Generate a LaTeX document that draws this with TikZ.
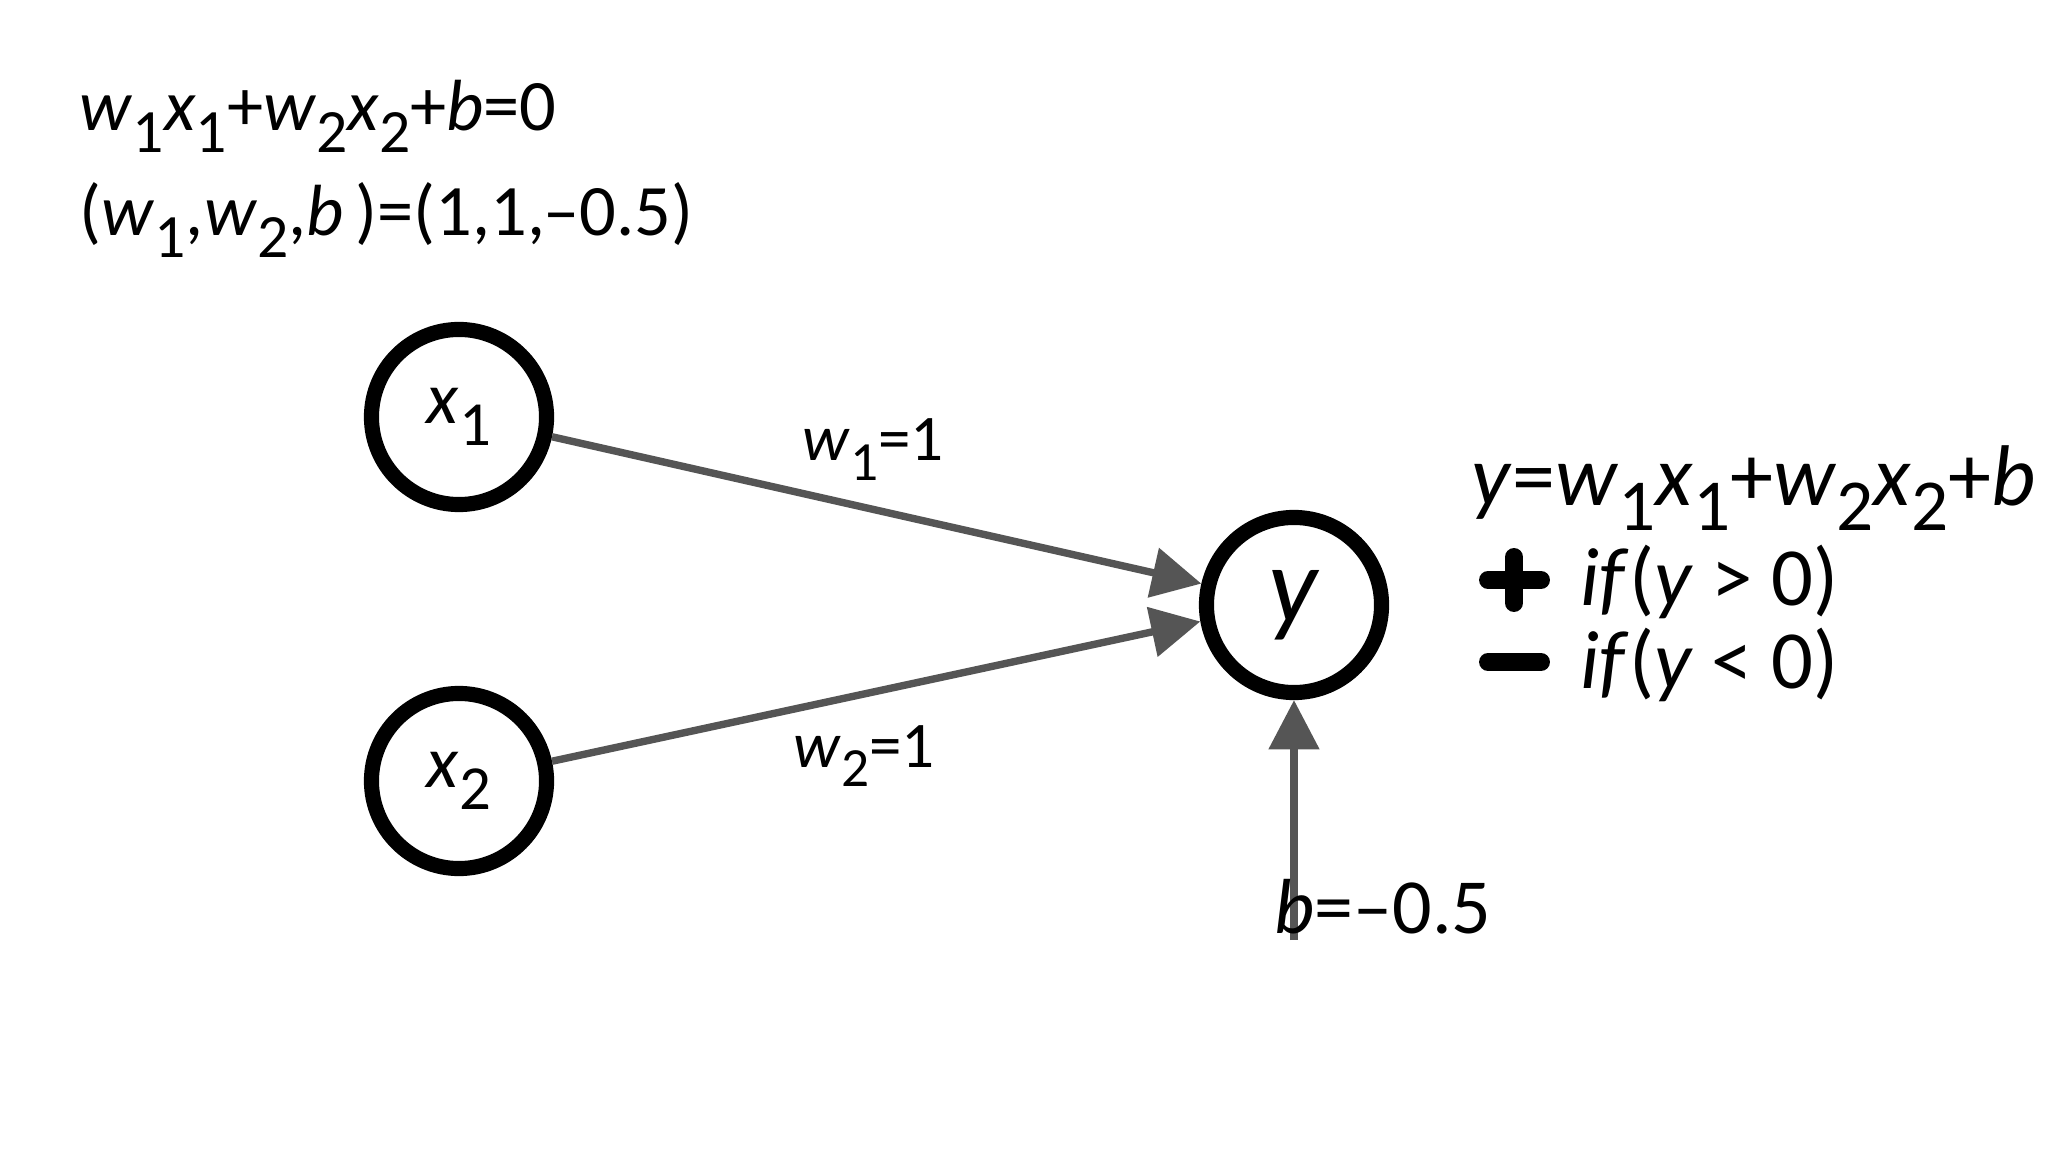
\documentclass[tikz,border=0pt]{standalone}
\usepackage{fontspec}
\setmainfont{Carlito}
\usetikzlibrary{arrows.meta}
\definecolor{arrowgrey}{RGB}{85,85,85}
\newcommand{\vsub}[1]{\raisebox{-0.3em}{\scalebox{0.85}{#1}}}
\newcommand{\vi}[1]{\textit{#1}}
\begin{document}
\begin{tikzpicture}[x=0.01cm,y=-0.01cm,
  neuron/.style={circle, draw=black, line width=4.3pt, minimum size=1.75cm, inner sep=0pt, font=\fontsize{21}{24}\selectfont},
  conn/.style={draw=arrowgrey, line width=2.1pt, -{Triangle[length=14pt,width=14pt]}},
  eq/.style={anchor=base west, inner sep=0pt, font=\fontsize{20.6}{24}\selectfont},
  lab/.style={eq, font=\fontsize{18.5}{22}\selectfont},
  eqbig/.style={eq, font=\fontsize{24.5}{28}\selectfont},
  eqif/.style={eq, font=\fontsize{23.5}{28}\selectfont},
  eqb/.style={eq, font=\fontsize{22.2}{26}\selectfont},
  sign/.style={line width=5.1pt, line cap=round}]
\useasboundingbox[fill=white] (0,0) rectangle (2048,1152);
\node[neuron] (x1) at (459,417) {\vi{x}\vsub{1}};
\node[neuron] (x2) at (459,781) {\vi{x}\vsub{2}};
\node[neuron, font=\fontsize{31}{34}\selectfont] (y) at (1294,605) {\vi{y}};
\coordinate (bstart) at (1294,940);
\draw[conn] (x1.-12) -- (y.167);
\draw[conn] (x2.12) -- (y.190);
\draw[conn] (bstart) -- (y.south);
\node[lab] (l1) at (802,461) {\vi{w}\vsub{1}=1};
\node[lab] (l2) at (793,767) {\vi{w}\vsub{2}=1};
\node[eqb] (lb) at (1274,933) {\vi{b}=–0.5};
\node[eq] (e1) at (79,131) {\vi{w}\vsub{1}\vi{x}\vsub{1}+\vi{w}\vsub{2}\vi{x}\vsub{2}+\vi{b}=0};
\node[eq] (e2) at (79,236) {(\vi{w}\vsub{1},\vi{w}\vsub{2},\vi{b}\,)=(1,1,–0.5)};
\node[eqbig] (ry) at (1471,505) {\vi{y}=\vi{w}\vsub{1}\vi{x}\vsub{1}+\vi{w}\vsub{2}\vi{x}\vsub{2}+\vi{b}};
\node[eqif] (rp) at (1580,606) {\vi{if}(\vi{y} > 0)};
\node[eqif] (rm) at (1580,688) {\vi{if}(\vi{y} < 0)};
\draw[sign] (1488,580) -- (1541,580);
\draw[sign] (1514,557) -- (1514,603);
\draw[sign] (1488,662) -- (1541,662);
\end{tikzpicture}
\end{document}
